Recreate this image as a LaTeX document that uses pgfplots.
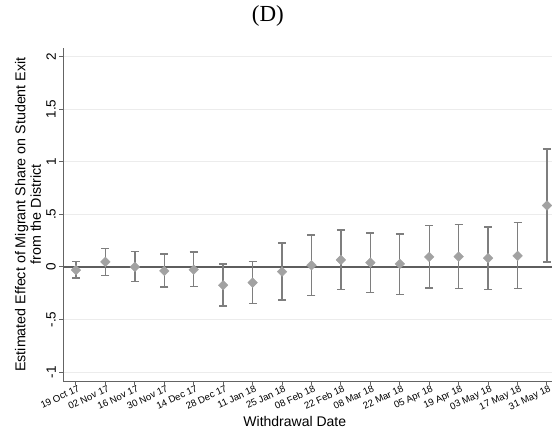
\documentclass[border=0pt]{standalone}
\usepackage{fontspec}
\setmainfont{Liberation Sans}
\newfontfamily\seriffont{Liberation Serif}
\usepackage{pgfplots}
\usepackage{pgfplotstable}
\pgfplotsset{compat=1.18}
\definecolor{mk}{HTML}{A2A2A2}
\definecolor{eb}{HTML}{7E7E7E}
\definecolor{axc}{HTML}{646464}
\definecolor{zl}{HTML}{5E5E5E}
\definecolor{gr}{HTML}{ECECEC}
\pgfplotstableread{
x y ep em
0 -0.030 0.084 0.077
1 0.048 0.126 0.127
2 0.000 0.145 0.140
3 -0.038 0.162 0.152
4 -0.026 0.166 0.161
5 -0.174 0.203 0.197
6 -0.149 0.199 0.196
7 -0.045 0.273 0.269
8 0.016 0.288 0.289
9 0.067 0.282 0.283
10 0.041 0.282 0.285
11 0.029 0.285 0.292
12 0.095 0.298 0.295
13 0.098 0.304 0.301
14 0.083 0.297 0.295
15 0.105 0.316 0.311
16 0.583 0.536 0.535
}\coef
\begin{document}
\begin{tikzpicture}
\path[use as bounding box] (0,0) rectangle (552pt,440pt);
\begin{axis}[
  at={(63pt,59pt)}, anchor=south west,
  scale only axis, width=489pt, height=333pt,
  xmin=-0.44, xmax=16.17, ymin=-1.084, ymax=2.08,
  axis lines*=left,
  axis line style={axc, line width=1pt},
  tick align=outside, major tick length=4pt,
  tick style={axc, line width=1pt},
  xtick={0,...,16},
  xticklabels={19 Oct 17,02 Nov 17,16 Nov 17,30 Nov 17,14 Dec 17,28 Dec 17,11 Jan 18,25 Jan 18,08 Feb 18,22 Feb 18,08 Mar 18,22 Mar 18,05 Apr 18,19 Apr 18,03 May 18,17 May 18,31 May 18},
  xticklabel style={font=\fontsize{9.6}{10}\selectfont, rotate=25, anchor=north east, inner sep=0.5pt, xshift=2pt},
  ytick={-1,-0.5,0,0.5,1,1.5,2},
  yticklabels={-1,-.5,0,.5,1,1.5,2},
  yticklabel style={font=\fontsize{13.5}{14}\selectfont, rotate=90, anchor=south, inner sep=3pt},
  ymajorgrids, grid style={gr, line width=1pt},
  xlabel={Withdrawal Date},
  xlabel style={font=\fontsize{14}{16}\selectfont, at={(ticklabel cs:0.474)}, inner sep=2pt, yshift=-2pt},
  ylabel={Estimated Effect of Migrant Share on Student Exit\\from the District},
  ylabel style={font=\fontsize{14.3}{15.5}\selectfont, align=center, inner sep=2pt},
  title={(D)},
  title style={font=\seriffont\fontsize{23}{25}\selectfont, at={(axis description cs:0.419,1)}, anchor=center, yshift=26pt},
  clip=false,
]
\addplot[zl, line width=1.4pt] coordinates {(-0.44,0) (16.17,0)};
\addplot[only marks, mark=square*, mark size=3.4pt,
  mark options={rotate=45, fill=mk, draw=mk},
  error bars/.cd, y dir=both, y explicit,
  error bar style={eb, line width=1.4pt},
  error mark options={eb, rotate=90, line width=1.4pt, mark size=4pt}]
  table[x=x, y=y, y error plus=ep, y error minus=em] {\coef};
\end{axis}
\end{tikzpicture}
\end{document}
